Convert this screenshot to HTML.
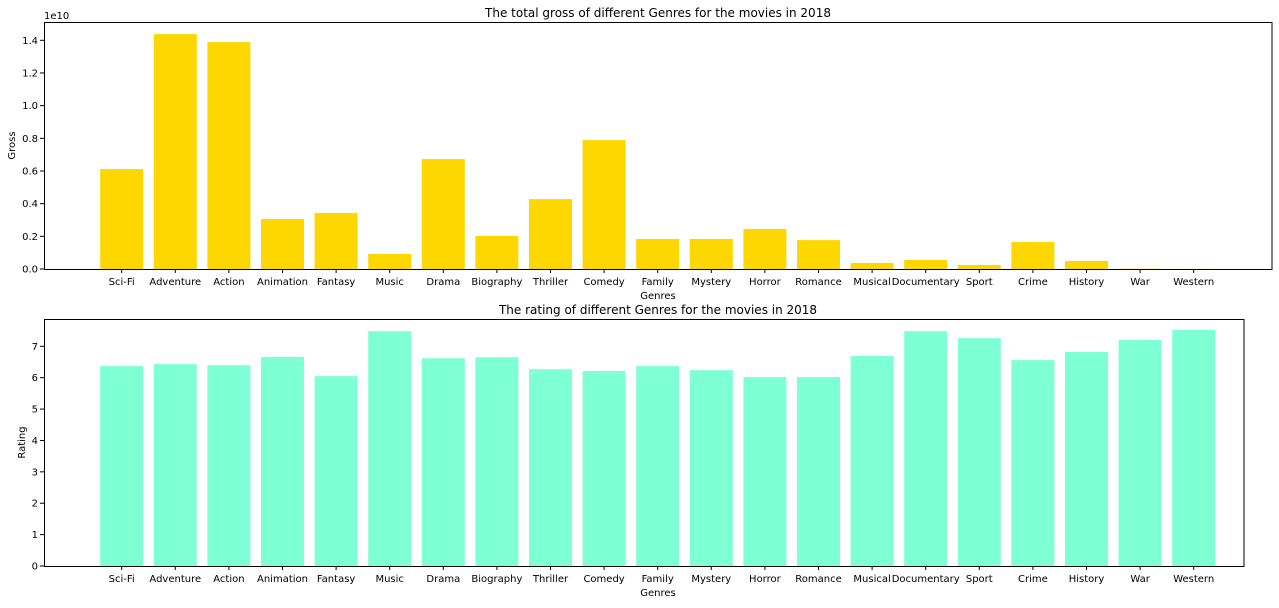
<!DOCTYPE html>
<html><head><meta charset="utf-8"><style>
body{margin:0;background:#fff;font-family:"DejaVu Sans","Liberation Sans",sans-serif;}
svg text{font-family:"DejaVu Sans","Liberation Sans",sans-serif;fill:#000;}
</style></head><body>
<svg id="c" width="1279" height="604"></svg>
<script>
const genres=["Sci-Fi","Adventure","Action","Animation","Fantasy","Music","Drama","Biography","Thriller","Comedy","Family","Mystery","Horror","Romance","Musical","Documentary","Sport","Crime","History","War","Western"];
const gross=[0.612,1.438,1.389,0.306,0.343,0.092,0.673,0.202,0.428,0.789,0.184,0.184,0.245,0.177,0.037,0.055,0.025,0.165,0.049,0.002,0.001];
const rating=[6.37,6.43,6.40,6.66,6.05,7.48,6.62,6.65,6.27,6.21,6.37,6.24,6.02,6.02,6.69,7.48,7.26,6.56,6.82,7.2,7.52];
const grossTicks=[0,0.2,0.4,0.6,0.8,1.0,1.2,1.4];
const ratingTicks=[0,1,2,3,4,5,6,7];
const svg=document.getElementById('c');
const NS='http://www.w3.org/2000/svg';
function mk(t,a,p){const e=document.createElementNS(NS,t);for(const k in a)e.setAttribute(k,a[k]);(p||svg).appendChild(e);return e;}
const xc=i=>121.7+i*53.6;
function panel(o){
  const g=mk('g',{});
  
  
  const y=v=>o.y0-(v/o.max)*(o.y0-o.yMaxPx);
  o.vals.forEach((v,i)=>{
    const r=mk('rect',{x:xc(i)-21.5,y:y(v),width:43,height:o.y0-y(v),fill:o.color},g);
    
    
  });
  const f=mk('rect',{x:44.5,y:o.top+0.5,width:o.right-44.5,height:o.y0-o.top,fill:'none',stroke:'#000','stroke-width':1},g);
  
  
  genres.forEach((n,i)=>{
    mk('line',{x1:xc(i),x2:xc(i),y1:o.y0,y2:o.y0+4,stroke:'#000'},g);
    const t=mk('text',{x:xc(i),y:o.y0+16,'text-anchor':'middle','font-size':10},g);
    t.textContent=n;
    
    
  });
  o.ticks.forEach(v=>{
    mk('line',{x1:40,x2:44.5,y1:y(v),y2:y(v),stroke:'#000'},g);
    const t=mk('text',{x:38,y:y(v)+3.5,'text-anchor':'end','font-size':10},g);
    t.textContent=o.fmt(v);
    
    
  });
  const tt=mk('text',{x:658,y:o.top-5,'text-anchor':'middle','font-size':12},g);
  tt.textContent=o.title;
  
  
  const xl=mk('text',{x:658,y:o.y0+30,'text-anchor':'middle','font-size':10},g);
  xl.textContent='Genres';
  
  
  const yl=mk('text',{x:0,y:0,'text-anchor':'middle','font-size':10,transform:`translate(${o.ylx},${(o.top+o.y0)/2}) rotate(-90)`},g);
  yl.textContent=o.ylabel;
  
  
}
panel({name:'gross-chart',vals:gross,ticks:grossTicks,max:1.4,y0:269,yMaxPx:40.3,top:22,right:1272,color:'#ffd700',fmt:v=>v.toFixed(1),title:'The total gross of different Genres for the movies in 2018',ylabel:'Gross',ylx:15});
panel({name:'rating-chart',vals:rating,ticks:ratingTicks,max:7,y0:566,yMaxPx:346.3,top:319,right:1244,color:'#7fffd4',fmt:v=>String(v),title:'The rating of different Genres for the movies in 2018',ylabel:'Rating',ylx:25});
const ex=mk('text',{x:44,y:19,'font-size':10});
ex.textContent='1e10';


</script>
</body></html>
